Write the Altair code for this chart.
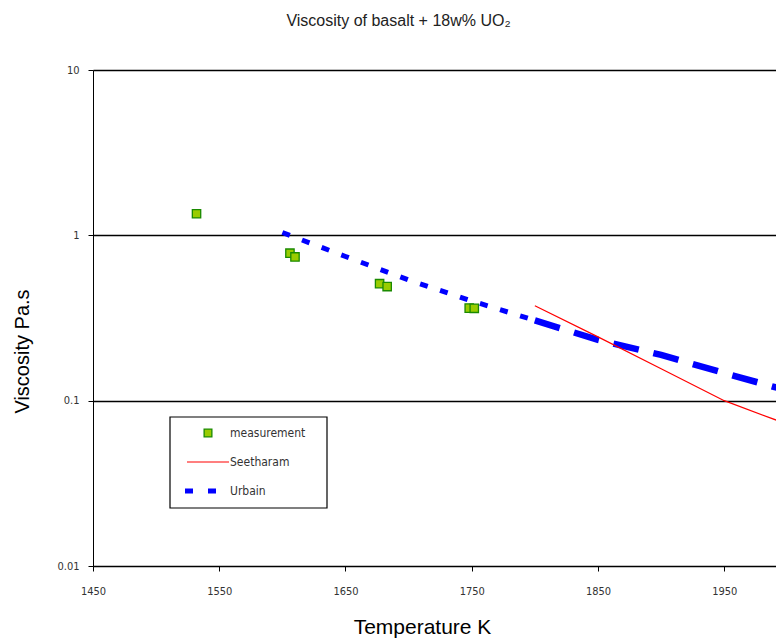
import altair as alt
import pandas as pd

# measurement points (Temperature K, viscosity Pa.s)
meas_T = [1532, 1606, 1610, 1677, 1683, 1748, 1752]
meas_eta = [1.35, 0.78, 0.74, 0.51, 0.49, 0.363, 0.362]

# Seetharam model
seeth_T = [1800, 1850, 1900, 1950, 2000]
seeth_eta = [0.375, 0.243, 0.156, 0.100, 0.072]

# Urbain model
urb_T = [1600, 1650, 1700, 1750, 1800, 1850, 1900, 1950, 2000]
urb_eta = [1.04, 0.745, 0.537, 0.401, 0.306, 0.233, 0.189, 0.147, 0.115]

x_ticks = [1450, 1550, 1650, 1750, 1850, 1950]
y_ticks = [0.01, 0.1, 1, 10]
legend_labels = ["measurement", "Seetharam", "Urbain"]

meas_df = pd.DataFrame({"T": meas_T, "eta": meas_eta})
seeth_df = pd.DataFrame({"T": seeth_T, "eta": seeth_eta})
urb_df = pd.DataFrame({"T": urb_T, "eta": urb_eta})
one = pd.DataFrame({"k": [0]})

TICK_FONT = "DejaVu Sans Condensed"
TITLE_FONT = "Liberation Sans"

x_enc = alt.X(
    "T:Q",
    scale=alt.Scale(domain=[1450, 1991], nice=False, zero=False),
    axis=alt.Axis(
        values=x_ticks, format="d", title="Temperature K", grid=False,
        labelFont=TICK_FONT, labelFontSize=11, labelColor="#333",
        labelFlush=False, labelPadding=14, tickSize=5, tickColor="black",
        domainColor="black",
        titleFont=TITLE_FONT, titleFontSize=21, titleFontWeight="normal",
        titleColor="black", titleX=329, titleY=67, titleBaseline="alphabetic",
    ),
)
y_enc = alt.Y(
    "eta:Q",
    scale=alt.Scale(type="log", domain=[0.01, 10], nice=False),
    axis=alt.Axis(
        values=y_ticks, format="~g", title="Viscosity Pa.s", grid=True,
        gridColor="black", gridWidth=1.3,
        labelFont=TICK_FONT, labelFontSize=11, labelColor="#333",
        labelPadding=9, tickSize=5, tickColor="black", domainColor="black",
        titleFont=TITLE_FONT, titleFontSize=20, titleFontWeight="normal",
        titleColor="black", titleX=-65, titleY=281, titleAngle=270,
        titleBaseline="alphabetic",
    ),
)

meas = alt.Chart(meas_df).mark_point(
    shape="square", filled=True, fill="#99CC00", stroke="#1a8a00",
    strokeWidth=1.3, size=70, opacity=1,
).encode(x=x_enc, y=y_enc)

seeth = alt.Chart(seeth_df).mark_line(color="#FF0000", strokeWidth=1.2, clip=True).encode(
    x=x_enc, y=y_enc
)

urb_a = alt.Chart(urb_df).transform_filter(alt.datum.T <= 1800).mark_line(
    color="#0000FF", strokeWidth=5, strokeDash=[8, 13], clip=True
).encode(x=x_enc, y=y_enc)

urb_b = alt.Chart(urb_df).transform_filter(alt.datum.T >= 1800).mark_line(
    color="#0000FF", strokeWidth=6.5, strokeDash=[26, 15], clip=True
).encode(x=x_enc, y=y_enc)

# legend box (manual)
LEG_FONT = "DejaVu Sans Condensed"
leg_box = alt.Chart(one).mark_rect(fill="white", stroke="black", strokeWidth=1.2).encode(
    x=alt.value(77), x2=alt.value(234), y=alt.value(347), y2=alt.value(438)
)
leg_pt = alt.Chart(one).mark_point(
    shape="square", filled=True, fill="#99CC00", stroke="#1a8a00",
    strokeWidth=1.3, size=60, opacity=1,
).encode(x=alt.value(115), y=alt.value(363))
leg_red = alt.Chart(one).mark_rule(color="#FF0000", strokeWidth=1.2).encode(
    x=alt.value(94), x2=alt.value(136), y=alt.value(392)
)
leg_blue = alt.Chart(one).mark_rule(color="#0000FF", strokeWidth=5, strokeDash=[8, 15]).encode(
    x=alt.value(92), x2=alt.value(124), y=alt.value(421)
)
leg_texts = [
    alt.Chart(one).mark_text(
        align="left", baseline="middle", font=LEG_FONT, fontSize=12, color="#333"
    ).encode(x=alt.value(137), y=alt.value(yy), text=alt.value(lab))
    for lab, yy in zip(legend_labels, [363, 392, 421])
]

chart = alt.layer(
    urb_a, urb_b, seeth, meas, leg_box, leg_pt, leg_red, leg_blue, *leg_texts
).properties(
    width=683,
    height=496,
    autosize=alt.AutoSizeParams(type="none"),
    padding={"left": 85, "top": 62, "right": 0, "bottom": 72},
    title=alt.TitleParams(
        text="Viscosity  of  basalt  + 18w%  UO₂",
        font="Liberation Sans", fontSize=16, fontWeight="normal",
        color="#222", anchor="middle", dx=-36, offset=22, baseline="alphabetic",
    ),
).configure_view(stroke="black", strokeWidth=1.5).configure(background="white")

chart.save("out.html", embed_options={"renderer": "svg", "actions": False})
